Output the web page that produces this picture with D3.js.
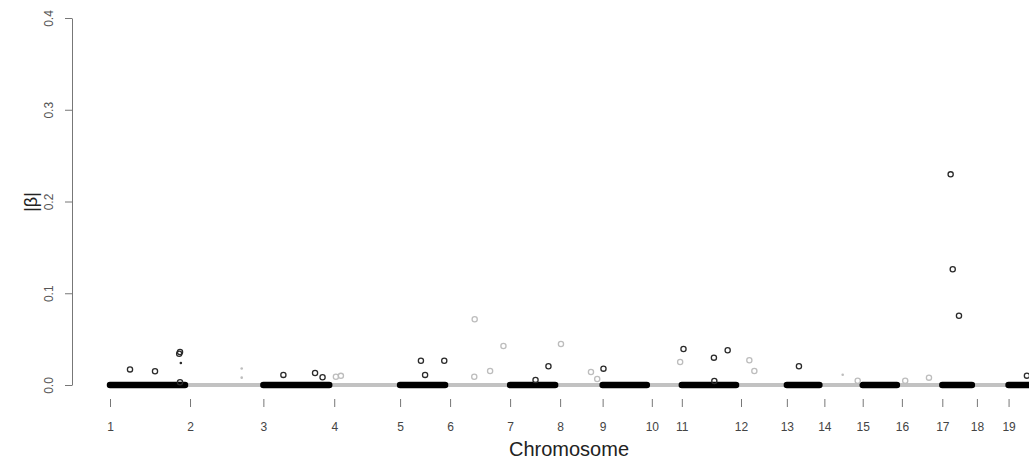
<!DOCTYPE html>
<html>
<head>
<meta charset="utf-8">
<script src="https://cdn.jsdelivr.net/npm/d3@7"></script>
<style>
  body { margin: 0; background: #fff; }
  svg { display: block; font-family: "Liberation Sans", Arial, sans-serif; }
</style>
</head>
<body>
<div id="chart"></div>
<script>
// Chromosomes and their plotted lengths (Mb, approx.)
var chromosomes = ["1","2","3","4","5","6","7","8","9","10","11","12","13","14","15","16","17","18","19"];
var chrLengths = [192, 176, 170, 158, 120, 144, 120, 102, 118, 72, 142, 110, 90, 92, 94, 97, 83, 76, 61];

// Markers with non-zero effect: chromosome index, position in chromosome (Mb), |beta|
var hitChr  = [0, 0, 0, 0, 0, 2, 2, 2, 3, 3, 4, 4, 4, 5, 5, 5, 5, 6, 6, 7, 7, 7, 8, 9, 10, 10, 10, 10, 11, 11, 12, 13, 15, 15, 16, 16, 16, 18];
var hitPos  = [48, 108, 166, 168, 168, 48, 124, 142, 4, 16, 50, 60, 106, 59, 58, 96, 128, 61, 92, 2, 74, 89, 2, 68, 4, 77, 78, 110, 20, 32, 29, 80, 8, 65, 20, 25, 40, 44];
var hitBeta = [0.017, 0.015, 0.034, 0.036, 0.003, 0.011, 0.013, 0.0085, 0.009, 0.010, 0.0265, 0.011, 0.0265, 0.0716, 0.009, 0.0153, 0.0425, 0.0054, 0.0204, 0.0447, 0.0142, 0.0065, 0.0178, 0.025, 0.0392, 0.0298, 0.0044, 0.0378, 0.0269, 0.0153, 0.0204, 0.0047, 0.0047, 0.008, 0.2296, 0.1261, 0.0755, 0.0102];

// Small dot markers
var dotChr  = [0, 1, 1, 13];
var dotPos  = [170, 124, 124, 44];
var dotBeta = [0.024, 0.018, 0.008, 0.0112];

var yTicks = [0, 0.1, 0.2, 0.3, 0.4];

window.onload = function() {
    var width = 1029, height = 465;

    var svg = d3.select("#chart")
                .append("svg")
                .attr("width", width)
                .attr("height", height);

    // cumulative chromosome starts
    var starts = [];
    var total = 0;
    chrLengths.forEach(function(len) { starts.push(total); total += len; });

    var x = d3.scaleLinear().domain([0, total]).range([110, 1034]);
    var y = d3.scaleLinear().domain([0, 0.4]).range([385, 18]);

    function pointColor(i) { return i % 2 === 0 ? "#2a2a2a" : "#bdbdbd"; }

    // zero-effect bands (gray first, black on top)
    svg.selectAll(".band-gray")
       .data(chromosomes.filter(function(d, i) { return i % 2 === 1; }))
       .enter()
       .append("line")
       .attr("x1", function(d) { var i = chromosomes.indexOf(d); return x(starts[i]) - 3; })
       .attr("x2", function(d) { var i = chromosomes.indexOf(d); return x(starts[i] + chrLengths[i]) + 3; })
       .attr("y1", y(0)).attr("y2", y(0))
       .attr("stroke", "#c2c2c2")
       .attr("stroke-width", 4);

    svg.selectAll(".band-black")
       .data(chromosomes.filter(function(d, i) { return i % 2 === 0; }))
       .enter()
       .append("line")
       .attr("x1", function(d) { var i = chromosomes.indexOf(d); return x(starts[i]); })
       .attr("x2", function(d) { var i = chromosomes.indexOf(d); return x(starts[i] + chrLengths[i]) - 5; })
       .attr("y1", y(0)).attr("y2", y(0))
       .attr("stroke", "#000")
       .attr("stroke-width", 6.5)
       .attr("stroke-linecap", "round");

    // open circle markers
    svg.selectAll(".hit")
       .data(hitBeta)
       .enter()
       .append("circle")
       .attr("cx", function(d, i) { return x(starts[hitChr[i]] + hitPos[i]); })
       .attr("cy", function(d) { return y(d); })
       .attr("r", 2.6)
       .attr("fill", "none")
       .attr("stroke", function(d, i) { return pointColor(hitChr[i]); })
       .attr("stroke-width", 1.3);

    // small dots
    svg.selectAll(".dot")
       .data(dotBeta)
       .enter()
       .append("circle")
       .attr("cx", function(d, i) { return x(starts[dotChr[i]] + dotPos[i]); })
       .attr("cy", function(d) { return y(d); })
       .attr("r", 1.3)
       .attr("fill", function(d, i) { return pointColor(dotChr[i]); });

    // y axis
    var yAxis = svg.append("g")
       .attr("transform", "translate(72,0)")
       .call(d3.axisLeft(y).tickValues(yTicks).tickFormat(d3.format(".1f")).tickSize(7).tickSizeOuter(0));
    yAxis.select(".domain").attr("stroke", "#777");
    yAxis.selectAll(".tick line").attr("stroke", "#777");
    yAxis.selectAll(".tick text")
         .attr("x", 0).attr("dy", 0)
         .attr("transform", "translate(-19,0) rotate(-90)")
         .style("text-anchor", "middle")
         .style("font-size", "12px")
         .attr("fill", "#555");

    // x axis: ticks at chromosome starts
    var xAxis = svg.append("g")
       .attr("transform", "translate(0,399)")
       .call(d3.axisBottom(x).tickValues(starts).tickFormat(function(d, i) { return chromosomes[i]; }).tickSize(8).tickPadding(15.5));
    xAxis.select(".domain").remove();
    xAxis.selectAll(".tick line").attr("stroke", "#777");
    xAxis.selectAll(".tick text")
         .style("font-size", "12px")
         .attr("fill", "#444");

    // axis titles
    svg.append("text")
       .attr("x", 569).attr("y", 456)
       .attr("text-anchor", "middle")
       .style("font-size", "20px")
       .attr("fill", "#222")
       .text("Chromosome");

    svg.append("text")
       .attr("transform", "translate(37,202) rotate(-90)")
       .attr("text-anchor", "middle")
       .style("font-size", "18px")
       .attr("fill", "#222")
       .text("|β|");
};
</script>
</body>
</html>
